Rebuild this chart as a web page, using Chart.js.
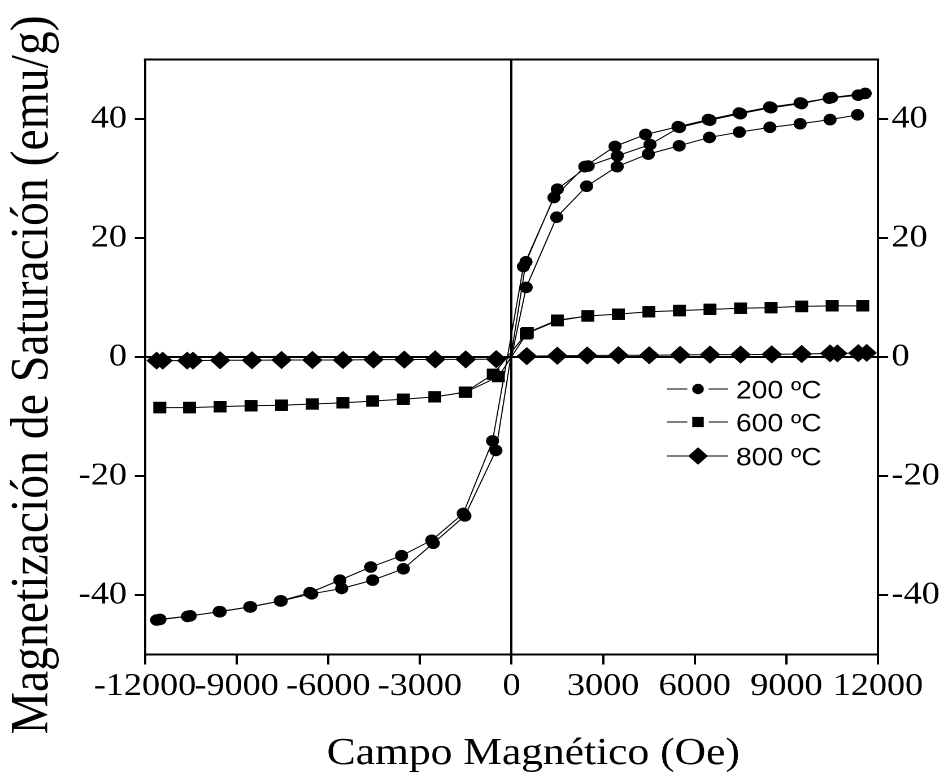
<!DOCTYPE html>
<html>
<head>
<meta charset="utf-8">
<script src="https://cdn.jsdelivr.net/npm/chart.js@4.4.0/dist/chart.umd.min.js"></script>
<style>
html,body{margin:0;padding:0;background:#fff;overflow:hidden;}
#c{display:block;transform:scaleX(1.1299);transform-origin:0 0;}
</style>
</head>
<body>
<canvas id="c" width="839" height="777"></canvas>
<script>
// ---------- data ----------
const xTicks = [-12000, -9000, -6000, -3000, 0, 3000, 6000, 9000, 12000];
const yTicks = [-40, -20, 0, 20, 40];
const seriesLabels = ['200 ºC', '600 ºC', '800 ºC'];

// 200 ºC: descending branch, ascending branch, initial curve
const field200Down = [11580, 10480, 9450, 8450, 7450, 6440, 5450, 4390, 3390, 2400, 1390, 390, -620, -1580, -2610, -3600, -4610, -5620, -6600, -7570, -8570, -9570, -10610, -11620];
const mag200Down   = [44.3, 43.6, 42.7, 42.0, 41.0, 39.9, 38.7, 37.4, 35.4, 32.0, 26.8, 15.2, -14.1, -26.3, -30.8, -33.4, -35.3, -37.5, -39.6, -41.0, -42.0, -42.8, -43.6, -44.2];
const field200Up   = [-11510, -10520, -9540, -8540, -7540, -6540, -5560, -4545, -3540, -2560, -1525, -510, 475, 1500, 2510, 3464, 4535, 5500, 6500, 7500, 8500, 9500, 10400, 11350];
const mag200Up     = [-44.1, -43.5, -42.8, -42.0, -41.0, -39.8, -38.9, -37.5, -35.6, -31.3, -26.7, -15.7, 16.0, 28.2, 32.1, 33.8, 35.7, 38.6, 39.8, 40.9, 41.9, 42.6, 43.5, 44.0];
const field200Initial = [0, 480, 1480, 2460, 3460, 4480, 5490, 6480, 7460, 8460, 9450, 10430, 11330];
const mag200Initial   = [0, 11.7, 23.5, 28.7, 32.0, 34.1, 35.5, 36.9, 37.8, 38.6, 39.2, 39.9, 40.7];

// 600 ºC
const field600Down = [11500, 10500, 9500, 8500, 7500, 6500, 5500, 4500, 3500, 2500, 1500, 480, -600, -1520, -2510, -3540, -4545, -5520, -6520, -7530, -8530, -9540, -10540, -11515];
const mag600Down   = [8.6, 8.6, 8.5, 8.3, 8.2, 8.0, 7.8, 7.6, 7.2, 6.9, 6.1, 3.9, -2.9, -5.9, -6.7, -7.1, -7.4, -7.7, -7.9, -8.1, -8.2, -8.35, -8.5, -8.5];
const field600Up   = [-11515, -10540, -9540, -8530, -7530, -6520, -5520, -4545, -3540, -2510, -1500, -430, 520, 1500, 2500, 3500, 4500, 5500, 6500, 7500, 8500, 9500, 10500, 11500];
const mag600Up     = [-8.5, -8.5, -8.35, -8.2, -8.1, -7.9, -7.7, -7.4, -7.1, -6.7, -5.9, -3.3, 4.1, 6.2, 6.9, 7.2, 7.6, 7.8, 8.0, 8.2, 8.3, 8.5, 8.6, 8.6];

// 800 ºC
const field800Down = [11630, 10670, 9500, 8520, 7500, 6500, 5520, 4510, 3500, 2480, 1500, 500, -500, -1500, -2500, -3510, -4520, -5520, -6520, -7530, -8500, -9540, -10620, -11620];
const mag800Down   = [0.7, 0.6, 0.5, 0.45, 0.4, 0.4, 0.35, 0.3, 0.3, 0.25, 0.2, 0.15, -0.35, -0.4, -0.4, -0.45, -0.45, -0.5, -0.5, -0.5, -0.55, -0.55, -0.6, -0.6];
const field800Up   = [-11420, -10430, -9540, -8500, -7530, -6520, -5520, -4520, -3510, -2500, -1500, -500, 500, 1500, 2480, 3500, 4510, 5520, 6500, 7500, 8520, 9500, 10430, 11355];
const mag800Up     = [-0.6, -0.6, -0.55, -0.55, -0.5, -0.5, -0.5, -0.45, -0.45, -0.4, -0.4, -0.35, 0.15, 0.2, 0.25, 0.3, 0.3, 0.35, 0.4, 0.4, 0.45, 0.5, 0.6, 0.65];

// ---------- chart ----------
const S = 1.1299;               // horizontal stretch applied by CSS
const PLOT_LEFT = 145 / S, PLOT_RIGHT = 878 / S, PLOT_TOP = 59.5, PLOT_BOTTOM_SPACE = 122.5;
const SERIF = '"Liberation Serif", "Times New Roman", serif';
const SANS = '"Liberation Sans", Arial, sans-serif';

function pts(xs, ys) { return xs.map((x, i) => ({ x: x, y: ys[i] })); }

const lineCommon = {
  showLine: true, fill: false, tension: 0,
  borderColor: '#000', borderWidth: 1,
  backgroundColor: '#000',
  pointBackgroundColor: '#000', pointBorderColor: '#000', pointBorderWidth: 0,
  pointHoverRadius: 6
};

const markerStyles = [
  { pointStyle: 'circle', radius: 5.8 },
  { pointStyle: 'rect', radius: 8 },
  { pointStyle: 'rectRot', radius: 9 }
];

const datasets = [
  Object.assign({}, lineCommon, {
    label: seriesLabels[0],
    data: pts(field200Down.concat(field200Up), mag200Down.concat(mag200Up)),
    pointStyle: 'circle', pointRadius: markerStyles[0].radius
  }),
  Object.assign({}, lineCommon, {
    label: seriesLabels[0] + ' (curva inicial)',
    data: pts(field200Initial, mag200Initial),
    pointStyle: 'circle', pointRadius: field200Initial.map(v => v === 0 ? 0 : markerStyles[0].radius)
  }),
  Object.assign({}, lineCommon, {
    label: seriesLabels[1],
    data: pts(field600Down.concat(field600Up), mag600Down.concat(mag600Up)),
    pointStyle: 'rect', pointRadius: markerStyles[1].radius
  }),
  Object.assign({}, lineCommon, {
    label: seriesLabels[2],
    data: pts(field800Down.concat(field800Up), mag800Down.concat(mag800Up)),
    pointStyle: 'rectRot', pointRadius: markerStyles[2].radius
  })
];

function zeroColor(c) { return (c.tick && c.tick.value === 0) ? '#000' : 'rgba(0,0,0,0)'; }

const frameTop = {
  id: 'frameTop',
  beforeDatasetsDraw(chart) {
    const a = chart.chartArea, ctx = chart.ctx;
    ctx.save();
    ctx.strokeStyle = '#000';
    ctx.lineWidth = 2;
    ctx.beginPath();
    ctx.moveTo(a.left - 1, a.top);
    ctx.lineTo(a.right + 1, a.top);
    ctx.stroke();
    ctx.restore();
  }
};

function drawMarker(ctx, style, r, x, y) {
  ctx.beginPath();
  if (style === 'circle') {
    ctx.arc(x, y, r, 0, Math.PI * 2);
  } else if (style === 'rect') {
    const h = Math.SQRT1_2 * r;
    ctx.rect(x - h, y - h, 2 * h, 2 * h);
  } else {
    ctx.moveTo(x - r, y); ctx.lineTo(x, y - r); ctx.lineTo(x + r, y); ctx.lineTo(x, y + r);
    ctx.closePath();
  }
  ctx.fill();
}

const legendBox = {
  id: 'legendBox',
  afterDatasetsDraw(chart) {
    const ctx = chart.ctx;
    const lineX1 = 667 / S, markX = 698 / S, lineX2 = 728 / S, textX = 736 / S;
    const rowsY = [389, 422, 456];
    ctx.save();
    ctx.fillStyle = '#000';
    ctx.strokeStyle = '#000';
    ctx.lineWidth = 1;
    ctx.font = '25px ' + SANS;
    ctx.textBaseline = 'alphabetic';
    ctx.textAlign = 'left';
    seriesLabels.forEach((lab, i) => {
      const y = rowsY[i];
      const m = markerStyles[i];
      const gap = (m.pointStyle === 'rectRot') ? 0 : 9.5;
      ctx.beginPath();
      ctx.moveTo(lineX1, y); ctx.lineTo(markX - gap, y);
      ctx.moveTo(markX + gap, y); ctx.lineTo(lineX2, y);
      ctx.stroke();
      const lr = m.pointStyle === 'circle' ? 5.2 : (m.pointStyle === 'rect' ? 7.2 : 8.8);
      drawMarker(ctx, m.pointStyle, lr, markX, y);
      ctx.fillText(lab, textX, y + 9.5);
    });
    ctx.restore();
  }
};

new Chart(document.getElementById('c'), {
  type: 'scatter',
  data: { datasets: datasets },
  plugins: [frameTop, legendBox],
  options: {
    responsive: false,
    devicePixelRatio: 2,
    animation: false,
    layout: { padding: { top: PLOT_TOP, left: 0, right: 0, bottom: 0 } },
    plugins: { legend: { display: false }, tooltip: { enabled: false } },
    scales: {
      x: {
        type: 'linear', position: 'bottom', min: -12000, max: 12000,
        afterBuildTicks: a => { a.ticks = xTicks.map(v => ({ value: v })); },
        afterFit: s => { s.height = PLOT_BOTTOM_SPACE; },
        ticks: { callback: v => String(v), color: '#000', font: { family: SERIF, size: 32 }, padding: 3, maxRotation: 0, autoSkip: false },
        grid: { drawOnChartArea: true, color: zeroColor, lineWidth: 2, tickColor: '#000', tickWidth: 2, tickLength: 10 },
        border: { display: true, color: '#000', width: 2 },
        title: { display: true, text: '    Campo Magnético (Oe)', color: '#000', font: { family: SERIF, size: 38.5 }, padding: { top: 0, bottom: 0 } }
      },
      y: {
        type: 'linear', position: 'left', min: -50, max: 50,
        afterBuildTicks: a => { a.ticks = yTicks.map(v => ({ value: v })); },
        afterFit: s => { s.width = PLOT_LEFT; },
        ticks: { callback: v => String(v), color: '#000', font: { family: SERIF, size: 32 }, padding: 7 },
        grid: { drawOnChartArea: true, color: zeroColor, lineWidth: 2, tickColor: '#000', tickWidth: 2, tickLength: 9 },
        border: { display: true, color: '#000', width: 2 },
        title: { display: true, text: 'Magnetización de Saturación (emu/g)   ', color: '#000', font: { family: SERIF, size: 47.7 }, padding: { top: 1, bottom: 0 } }
      },
      y2: {
        type: 'linear', position: 'right', min: -50, max: 50,
        afterBuildTicks: a => { a.ticks = yTicks.map(v => ({ value: v })); },
        afterFit: s => { s.width = 839 - PLOT_RIGHT; },
        ticks: { callback: v => String(v), color: '#000', font: { family: SERIF, size: 32 }, padding: 3 },
        grid: { drawOnChartArea: false, tickColor: '#000', tickWidth: 2, tickLength: 9 },
        border: { display: true, color: '#000', width: 2 }
      }
    }
  }
});
</script>
</body>
</html>
